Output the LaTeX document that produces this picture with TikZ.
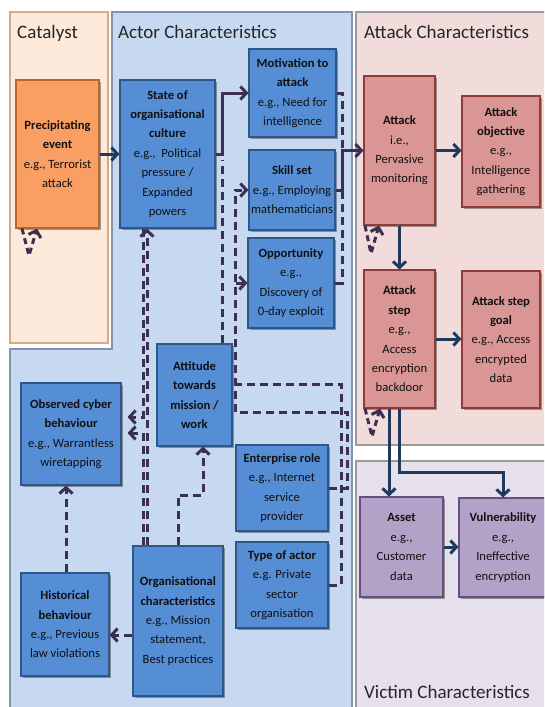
\documentclass[tikz,border=0pt]{standalone}
\usepackage{fontspec}
\setmainfont{Carlito}
\usetikzlibrary{arrows.meta,shadows}
\definecolor{catbg}{HTML}{FDE9D9}
\definecolor{catln}{HTML}{D9A888}
\definecolor{actbg}{HTML}{C6D9F1}
\definecolor{actln}{HTML}{8193AD}
\definecolor{attbg}{HTML}{F2DCDB}
\definecolor{vicbg}{HTML}{E6E0EC}
\definecolor{panln}{HTML}{9A9A9A}
\definecolor{bluefill}{HTML}{558ED5}
\definecolor{blueln}{HTML}{2F5685}
\definecolor{orfill}{HTML}{FA9F63}
\definecolor{orln}{HTML}{B8672E}
\definecolor{redfill}{HTML}{D99694}
\definecolor{redln}{HTML}{8E3B39}
\definecolor{purfill}{HTML}{B3A2C7}
\definecolor{purln}{HTML}{64507F}
\definecolor{navy}{HTML}{1F3A5C}
\definecolor{plum}{HTML}{3D2F52}
\definecolor{txt}{HTML}{111111}
\tikzset{
  box/.style={draw, line width=1.1pt, inner sep=0pt, align=center, text=txt,
    font=\fontsize{12.6}{19.4}\selectfont,
    drop shadow={shadow xshift=1.5pt, shadow yshift=-1.5pt, opacity=0.35, fill=black}},
  bluebox/.style={box, fill=bluefill, draw=blueln},
  orbox/.style={box, fill=orfill, draw=orln},
  redbox/.style={box, fill=redfill, draw=redln},
  purbox/.style={box, fill=purfill, draw=purln},
  sz/.style 2 args={minimum width=#1, minimum height=#2},
  tip/.style={-{Straight Barb[length=6pt,width=13pt]}},
  navyarr/.style={draw=navy, line width=3pt, tip},
  plumarr/.style={draw=plum, line width=3pt, tip},
  dsh/.style={draw=plum, line width=3pt, dash pattern=on 8pt off 5pt},
  dsharr/.style={dsh, tip},
  ptitle/.style={anchor=base west, inner sep=0pt, text=black!85, font=\fontsize{19}{22}\selectfont},
}
\begin{document}
\begin{tikzpicture}[x=1pt, y=-1pt]
\useasboundingbox (0,0) rectangle (544,707);
\clip (0,0) rectangle (544,707);
\fill[white] (0,0) rectangle (544,707);
% panels
\draw[fill=catbg, draw=catln, line width=1.2pt] (10,12) rectangle (108,343);
\draw[fill=actbg, draw=actln, line width=1.2pt] (112,12) -- (352,12) -- (352,712) -- (10,712) -- (10,349) -- (112,349) -- cycle;
\draw[fill=attbg, draw=panln, line width=1.2pt] (356,12) rectangle (550,445);
\draw[fill=vicbg, draw=panln, line width=1.2pt] (356,461) rectangle (550,712);
\node[ptitle] (tcat) at (17,38) {Catalyst};
\node[ptitle] (tact) at (118,38) {Actor Characteristics};
\node[ptitle] (tatt) at (364,38) {Attack Characteristics};
\node[ptitle] (tvic) at (364,698) {Victim Characteristics};

% guide coordinates
\coordinate (g66) at (66,0);
\coordinate (g143) at (143,0);
\coordinate (g147) at (147,0);
\coordinate (g203) at (203,0);
\coordinate (g389) at (389,0);
\coordinate (h417) at (0,417);
\coordinate (h433) at (0,433);
\coordinate (h472) at (0,472);
\coordinate (h495) at (0,495);
\coordinate (h635) at (0,635);
\coordinate (jA) at (342,150.5);
\coordinate (jS) at (222,154);
\coordinate (jE) at (235,412);
\coordinate (jT) at (341,384);

% nodes
\node[orbox, sz={83pt}{148pt}] (prec) at (57.5,154) {\textbf{Precipitating}\\\textbf{event}\\e.g., Terrorist\\attack};
\node[bluebox, sz={95pt}{148pt}] (state) at (167.5,154) {\textbf{State of}\\\textbf{organisational}\\\textbf{culture}\\e.g.,\ \ Political\\pressure /\\Expanded\\powers};
\node[bluebox, sz={87pt}{88pt}] (motiv) at (292.5,93) {\textbf{Motivation to}\\\textbf{attack}\\e.g., Need for\\intelligence};
\node[bluebox, sz={86pt}{80pt}] (skill) at (292,190) {\textbf{Skill set}\\e.g., Employing\\mathematicians};
\node[bluebox, sz={86pt}{90pt}] (opp) at (291,283) {\textbf{Opportunity}\\e.g.,\\Discovery of\\0-day exploit};
\node[redbox, sz={71pt}{149pt}] (attack) at (399.5,150.5) {\textbf{Attack}\\i.e.,\\Pervasive\\monitoring};
\node[redbox, sz={78pt}{111pt}] (objective) at (501,151.5) {\textbf{Attack}\\\textbf{objective}\\e.g.,\\Intelligence\\gathering};
\node[redbox, sz={71pt}{138pt}] (step) at (399.5,339) {\textbf{Attack}\\\textbf{step}\\e.g.,\\Access\\encryption\\backdoor};
\node[redbox, sz={78pt}{137pt}] (goal) at (501,339.5) {\textbf{Attack step}\\\textbf{goal}\\e.g., Access\\encrypted\\data};
\node[purbox, sz={83pt}{100pt}] (asset) at (401.5,547) {\textbf{Asset}\\e.g.,\\Customer\\data};
\node[purbox, sz={88pt}{99pt}] (vuln) at (503,547.5) {\textbf{Vulnerability}\\e.g.,\\Ineffective\\encryption};
\node[bluebox, sz={75pt}{102pt}] (attitude) at (194.5,395) {\textbf{Attitude}\\\textbf{towards}\\\textbf{mission /}\\\textbf{work}};
\node[bluebox, sz={100pt}{102pt}] (observed) at (71,434) {\textbf{Observed cyber}\\\textbf{behaviour}\\e.g., Warrantless\\wiretapping};
\node[bluebox, sz={92pt}{86pt}] (enterprise) at (282,488) {\textbf{Enterprise role}\\e.g., Internet\\service\\provider};
\node[bluebox, sz={92pt}{86pt}] (typeactor) at (282,585) {\textbf{Type of actor}\\e.g. Private\\sector\\organisation};
\node[bluebox, sz={88pt}{103pt}] (historical) at (65,624.5) {\textbf{Historical}\\\textbf{behaviour}\\e.g., Previous\\law violations};
\node[bluebox, sz={90pt}{150pt}] (org) at (178,621) {\textbf{Organisational}\\\textbf{characteristics}\\e.g., Mission\\statement,\\Best practices};

% solid navy connectors
\draw[navyarr] (prec.east) -- (state.west);
\draw[navyarr] (attack.east) -- (attack.east -| objective.west);
\draw[navyarr] (attack.south) -- (step.north);
\draw[navyarr] (step.east) -- (step.east -| goal.west);
\draw[navyarr] (step.south -| g389) -- (asset.north -| g389);
\draw[navyarr] (step.south) |- (vuln.north |- h472) -- (vuln.north);
\draw[navyarr] (asset.east) -- (asset.east -| vuln.west);

% solid plum connectors
\draw[plumarr] (state.east) -- (jS) |- (motiv.west);
\draw[plumarr] (skill.east) -| (jA) -- (attack.west);

% dashed connectors
\draw[dsh] (motiv.east) -| (jA);
\draw[dsh] (opp.east) -| (jA);
\draw[dsh] (attitude.north -| jS) -- ([yshift=-6pt]jS);
\draw[dsharr] (enterprise.east) -- ++(19,0) |- (jE) |- (skill.west);
\draw[dsharr] (jE) |- (opp.west);
\draw[dsh] (typeactor.east) -| (jT) -- (attitude.east |- jT);
\draw[dsharr] (org.north -| g147) -- (state.south -| g147);
\draw[dsharr, shorten >=6pt] (state.south -| g143) |- (h417 -| observed.east);
\draw[dsharr, shorten >=6pt] (org.north -| g143) |- (h433 -| observed.east);
\draw[dsharr] (org.north) |- (g203 |- h495) -- (attitude.south -| g203);
\draw[dsharr] (org.west |- h635) -- (historical.east |- h635);
\draw[dsharr] (historical.north -| g66) -- (observed.south -| g66);

% self loops
\draw[dsharr, dash pattern=on 6pt off 4pt] ([xshift=-35.5pt]prec.south) -- ++(7,27) -- ++(8,-27);
\draw[dsharr, dash pattern=on 6pt off 4pt] ([xshift=-34.5pt]attack.south) -- ++(6,28) -- ++(8,-28);
\draw[dsharr, dash pattern=on 6pt off 4pt] ([xshift=-34.5pt]step.south) -- ++(7,28) -- ++(8,-28);
\end{tikzpicture}
\end{document}
